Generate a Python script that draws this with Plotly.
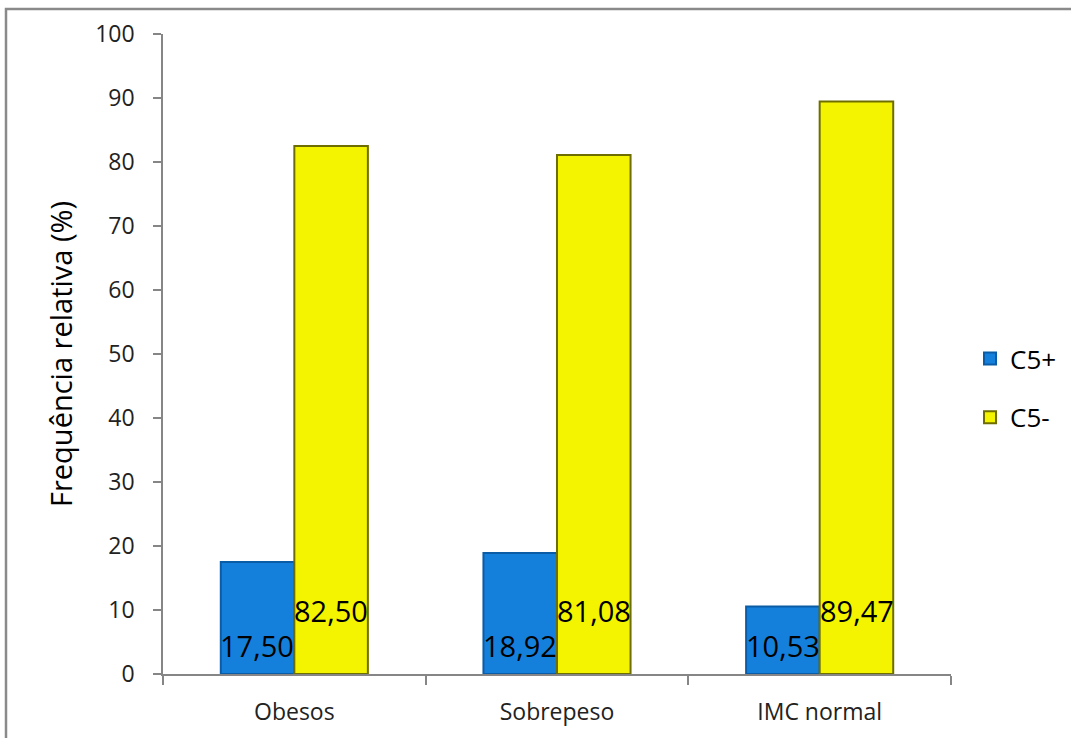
import plotly.graph_objects as go

categories = ["Obesos", "Sobrepeso", "IMC normal"]
c5_plus = [17.50, 18.92, 10.53]
c5_minus = [82.50, 81.08, 89.47]
series_names = ["C5+", "C5-"]
y_ticks = [0, 10, 20, 30, 40, 50, 60, 70, 80, 90, 100]

FONT = "Open Sans"
W, H = 1071, 738
L, R, T, B = 163, 120, 34, 64

fig = go.Figure()
fig.add_trace(go.Bar(
    x=categories, y=c5_plus, name=series_names[0], legendgroup="a",
    marker=dict(color="#1580dc", line=dict(color="#0a5ca6", width=2)),
))
fig.add_trace(go.Bar(
    x=categories, y=c5_minus, name=series_names[1], legendgroup="b",
    marker=dict(color="#f4f400", line=dict(color="#6e6e00", width=2)),
))

def fmt(v):
    return f"{v:.2f}".replace(".", ",")

for i, cat in enumerate(categories):
    fig.add_annotation(x=cat, y=4.4, xref="x", yref="y", text=fmt(c5_plus[i]),
                       showarrow=False, xshift=-37,
                       font=dict(family=FONT, size=29, color="#000000"))
    fig.add_annotation(x=cat, y=10.0, xref="x", yref="y", text=fmt(c5_minus[i]),
                       showarrow=False, xshift=37,
                       font=dict(family=FONT, size=29, color="#000000"))

pw = W - L - R
ph = H - T - B
def px(xp):
    return (xp - L) / pw
def py(yp):
    return (H - B - yp) / ph

fig.add_shape(type="rect", xref="paper", yref="paper",
              x0=px(6), x1=px(1080), y0=py(745), y1=py(9),
              line=dict(color="#8a8a8a", width=2.5), fillcolor="rgba(0,0,0,0)",
              layer="below")

fig.update_layout(
    width=W, height=H,
    margin=dict(l=L, r=R, t=T, b=B, autoexpand=False),
    paper_bgcolor="white", plot_bgcolor="white",
    barmode="group", bargap=0.44, bargroupgap=0,
    font=dict(family=FONT, size=22, color="#000000"),
    legend=dict(x=px(970), y=py(335), xanchor="left", yanchor="top",
                font=dict(family=FONT, size=26, color="#000000"),
                tracegroupgap=22, traceorder="grouped",
                bgcolor="rgba(0,0,0,0)"),
    xaxis=dict(showline=True, linecolor="#868686", linewidth=1.5,
               ticks="outside", tickson="boundaries", ticklen=9, tickcolor="#868686",
               tickwidth=1.5, tickfont=dict(family=FONT, size=23, color="#222222"),
               ticklabelstandoff=17,
               showgrid=False, zeroline=False),
    yaxis=dict(range=[0, 100], tickvals=y_ticks, showline=True, linecolor="#868686",
               linewidth=1.5, ticks="outside", ticklen=8, tickcolor="#868686",
               tickwidth=1.5, tickfont=dict(family=FONT, size=23, color="#222222"),
               ticklabelstandoff=14,
               showgrid=False, zeroline=False,
               title=dict(text="Frequência relativa (%)",
                          font=dict(family=FONT, size=29, color="#000000"),
                          standoff=14)),
)

fig.write_html("out.html")
